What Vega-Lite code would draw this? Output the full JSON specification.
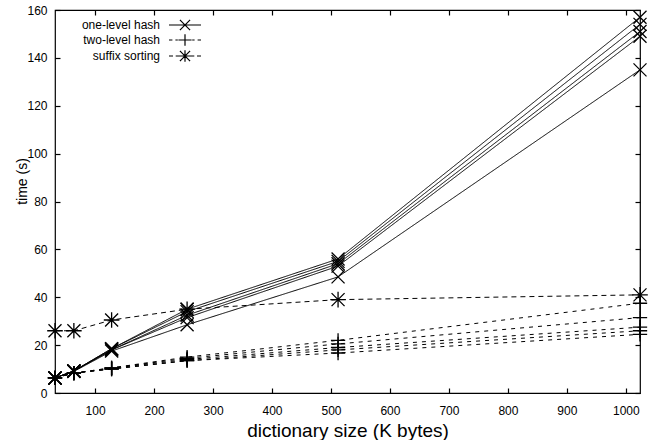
{
  "$schema": "https://vega.github.io/schema/vega-lite/v6.json",
  "width": 585,
  "height": 383,
  "autosize": {"type": "none"},
  "padding": {"left": 55, "top": 10, "right": 12, "bottom": 47},
  "background": "white",
  "config": {
    "font": "Liberation Sans",
    "view": {"stroke": "black", "strokeWidth": 1.2},
    "axis": {
      "domain": false,
      "grid": false,
      "tickSize": -5,
      "tickColor": "black",
      "tickWidth": 1.2,
      "labelFont": "Liberation Sans",
      "labelFontSize": 12,
      "labelColor": "black",
      "titleFont": "Liberation Sans",
      "titleColor": "black",
      "titleFontWeight": "normal"
    }
  },
  "data": {
    "values": [
      {"method": "one-level hash", "series": "o1", "size": 32, "time": 6.3},
      {"method": "one-level hash", "series": "o1", "size": 64, "time": 9.2},
      {"method": "one-level hash", "series": "o1", "size": 128, "time": 18.5},
      {"method": "one-level hash", "series": "o1", "size": 256, "time": 35},
      {"method": "one-level hash", "series": "o1", "size": 512, "time": 56},
      {"method": "one-level hash", "series": "o1", "size": 1024, "time": 157},
      {"method": "one-level hash", "series": "o2", "size": 32, "time": 6.3},
      {"method": "one-level hash", "series": "o2", "size": 64, "time": 9.2},
      {"method": "one-level hash", "series": "o2", "size": 128, "time": 18.5},
      {"method": "one-level hash", "series": "o2", "size": 256, "time": 34},
      {"method": "one-level hash", "series": "o2", "size": 512, "time": 55},
      {"method": "one-level hash", "series": "o2", "size": 1024, "time": 154},
      {"method": "one-level hash", "series": "o3", "size": 32, "time": 6.3},
      {"method": "one-level hash", "series": "o3", "size": 64, "time": 9.2},
      {"method": "one-level hash", "series": "o3", "size": 128, "time": 18},
      {"method": "one-level hash", "series": "o3", "size": 256, "time": 32.5},
      {"method": "one-level hash", "series": "o3", "size": 512, "time": 54},
      {"method": "one-level hash", "series": "o3", "size": 1024, "time": 151},
      {"method": "one-level hash", "series": "o4", "size": 32, "time": 6.3},
      {"method": "one-level hash", "series": "o4", "size": 64, "time": 9.2},
      {"method": "one-level hash", "series": "o4", "size": 128, "time": 18},
      {"method": "one-level hash", "series": "o4", "size": 256, "time": 31.5},
      {"method": "one-level hash", "series": "o4", "size": 512, "time": 53},
      {"method": "one-level hash", "series": "o4", "size": 1024, "time": 149},
      {"method": "one-level hash", "series": "o5", "size": 32, "time": 6.3},
      {"method": "one-level hash", "series": "o5", "size": 64, "time": 9},
      {"method": "one-level hash", "series": "o5", "size": 128, "time": 17.5},
      {"method": "one-level hash", "series": "o5", "size": 256, "time": 28.5},
      {"method": "one-level hash", "series": "o5", "size": 512, "time": 48.5},
      {"method": "one-level hash", "series": "o5", "size": 1024, "time": 135},
      {"method": "two-level hash", "series": "t1", "size": 32, "time": 6.3},
      {"method": "two-level hash", "series": "t1", "size": 64, "time": 8.3},
      {"method": "two-level hash", "series": "t1", "size": 128, "time": 10.5},
      {"method": "two-level hash", "series": "t1", "size": 256, "time": 15},
      {"method": "two-level hash", "series": "t1", "size": 512, "time": 22},
      {"method": "two-level hash", "series": "t1", "size": 1024, "time": 37.5},
      {"method": "two-level hash", "series": "t2", "size": 32, "time": 6.3},
      {"method": "two-level hash", "series": "t2", "size": 64, "time": 8.3},
      {"method": "two-level hash", "series": "t2", "size": 128, "time": 10.5},
      {"method": "two-level hash", "series": "t2", "size": 256, "time": 14.5},
      {"method": "two-level hash", "series": "t2", "size": 512, "time": 20.5},
      {"method": "two-level hash", "series": "t2", "size": 1024, "time": 31.5},
      {"method": "two-level hash", "series": "t3", "size": 32, "time": 6.3},
      {"method": "two-level hash", "series": "t3", "size": 64, "time": 8.3},
      {"method": "two-level hash", "series": "t3", "size": 128, "time": 10.3},
      {"method": "two-level hash", "series": "t3", "size": 256, "time": 14},
      {"method": "two-level hash", "series": "t3", "size": 512, "time": 19},
      {"method": "two-level hash", "series": "t3", "size": 1024, "time": 27.5},
      {"method": "two-level hash", "series": "t4", "size": 32, "time": 6.3},
      {"method": "two-level hash", "series": "t4", "size": 64, "time": 8.3},
      {"method": "two-level hash", "series": "t4", "size": 128, "time": 10},
      {"method": "two-level hash", "series": "t4", "size": 256, "time": 13.5},
      {"method": "two-level hash", "series": "t4", "size": 512, "time": 18},
      {"method": "two-level hash", "series": "t4", "size": 1024, "time": 26},
      {"method": "two-level hash", "series": "t5", "size": 32, "time": 6.3},
      {"method": "two-level hash", "series": "t5", "size": 64, "time": 8.3},
      {"method": "two-level hash", "series": "t5", "size": 128, "time": 10},
      {"method": "two-level hash", "series": "t5", "size": 256, "time": 13.5},
      {"method": "two-level hash", "series": "t5", "size": 512, "time": 16.7},
      {"method": "two-level hash", "series": "t5", "size": 1024, "time": 24.5},
      {"method": "suffix sorting", "series": "s1", "size": 32, "time": 26},
      {"method": "suffix sorting", "series": "s1", "size": 64, "time": 26},
      {"method": "suffix sorting", "series": "s1", "size": 128, "time": 30.5},
      {"method": "suffix sorting", "series": "s1", "size": 256, "time": 35},
      {"method": "suffix sorting", "series": "s1", "size": 512, "time": 39},
      {"method": "suffix sorting", "series": "s1", "size": 1024, "time": 41}
    ]
  },
  "resolve": {"axis": {"x": "independent", "y": "independent"}, "scale": {"shape": "independent"}},
  "layer": [
    {
      "mark": {"type": "line", "color": "black", "strokeWidth": 1},
      "encoding": {
        "x": {
          "field": "size", "type": "quantitative",
          "scale": {"domain": [32, 1024], "nice": false, "zero": false},
          "axis": {
            "orient": "bottom",
            "values": [100, 200, 300, 400, 500, 600, 700, 800, 900, 1000],
            "format": "d",
            "labelPadding": 17,
            "title": "dictionary size (K bytes)",
            "titleFontSize": 19,
            "titlePadding": 5
          }
        },
        "y": {
          "field": "time", "type": "quantitative",
          "scale": {"domain": [0, 160], "nice": false},
          "axis": {
            "orient": "left",
            "values": [0, 20, 40, 60, 80, 100, 120, 140, 160],
            "labelPadding": 13,
            "title": "time (s)",
            "titleFontSize": 14,
            "titleX": -26,
            "titleY": 171
          }
        },
        "detail": {"field": "series"},
        "strokeDash": {
          "field": "method",
          "scale": {
            "domain": ["suffix sorting", "two-level hash", "one-level hash"],
            "range": [[5, 4], [4, 5], [1, 0]]
          },
          "legend": null
        }
      }
    },
    {
      "mark": {"type": "point", "filled": false, "stroke": "black", "strokeWidth": 1.3, "size": 169, "opacity": 1},
      "encoding": {
        "x": {"field": "size", "type": "quantitative", "axis": null},
        "y": {"field": "time", "type": "quantitative", "axis": null},
        "shape": {
          "field": "method",
          "scale": {
            "domain": ["suffix sorting", "two-level hash", "one-level hash"],
            "range": [
              "M-1,-1L1,1M-1,1L1,-1M-1.2,0L1.2,0M0,-1.2L0,1.2",
              "M-1.1,0L1.1,0M0,-1.1L0,1.1",
              "M-1,-1L1,1M-1,1L1,-1"
            ]
          },
          "legend": null
        }
      }
    },
    {
      "mark": {"type": "point", "filled": false, "stroke": "black", "strokeWidth": 1.2, "size": 144, "opacity": 0},
      "encoding": {
        "x": {"field": "size", "type": "quantitative", "axis": {"orient": "top", "labels": false, "title": null, "values": [100, 200, 300, 400, 500, 600, 700, 800, 900, 1000]}},
        "y": {"field": "time", "type": "quantitative", "axis": {"orient": "right", "labels": false, "title": null, "values": [0, 20, 40, 60, 80, 100, 120, 140, 160]}},
        "shape": {
          "field": "method",
          "scale": {
            "domain": ["one-level hash", "two-level hash", "suffix sorting"],
            "range": [
              "M-2.67,0L2.67,0M-0.85,-0.85L0.85,0.85M-0.85,0.85L0.85,-0.85",
              "M-2.67,0L-2.1,0M-1.6,0L-1.2,0M1.2,0L1.6,0M2.1,0L2.67,0M-1.1,0L1.1,0M0,-0.95L0,0.95",
              "M-2.67,0L-2,0M-1.55,0L-1.1,0M1.1,0L1.55,0M2,0L2.67,0M-0.85,-0.85L0.85,0.85M-0.85,0.85L0.85,-0.85M-1.1,0L1.1,0M0,-0.95L0,0.95"
            ]
          },
          "legend": {
            "orient": "none",
            "legendX": 123,
            "legendY": 8,
            "title": null,
            "padding": 0,
            "symbolSize": 144,
            "symbolOpacity": 1,
            "symbolStrokeColor": "black",
            "symbolFillColor": "transparent",
            "symbolStrokeWidth": 1.2,
            "rowPadding": -11,
            "labelAlign": "right",
            "labelOffset": -32,
            "labelFont": "Liberation Sans",
            "labelFontSize": 12,
            "labelColor": "black"
          }
        }
      }
    }
  ]
}
